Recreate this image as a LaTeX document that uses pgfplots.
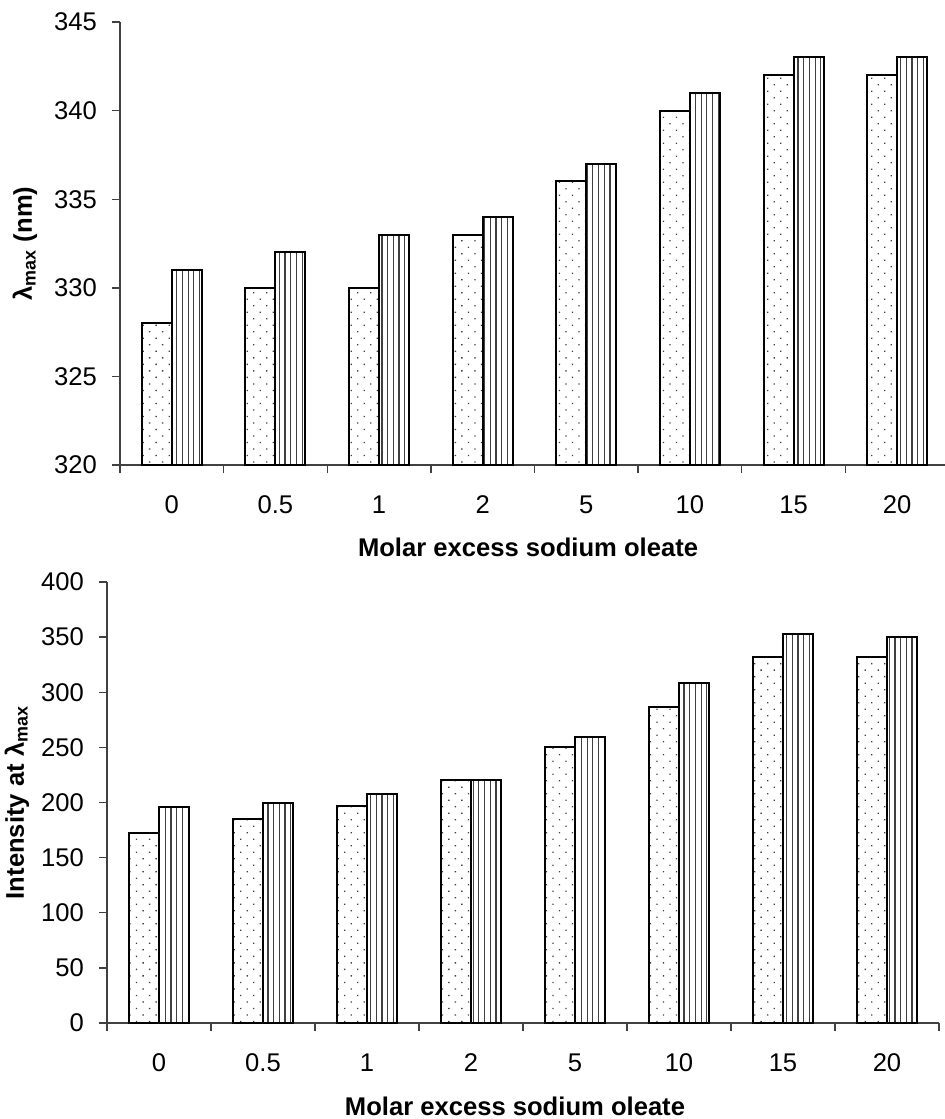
\documentclass[border=0pt]{standalone}
\usepackage{fontspec}
\setmainfont{Liberation Sans}
\usepackage{pgfplots}
\pgfplotsset{compat=1.18}
\usetikzlibrary{patterns.meta}

\newcommand{\tickfont}{\fontsize{12.8}{15}\selectfont}
\newcommand{\labfont}{\bfseries\fontsize{12.8}{15}\selectfont}

\pgfplotsset{
  excess/.style={
    scale only axis,
    xmin=-0.5, xmax=7.5,
    axis x line*=bottom, axis y line*=left,
    axis line style={black!75, line width=0.7pt},
    tick style={black!75, line width=0.7pt},
    tick align=outside,
    major tick length=4pt, minor tick length=4pt,
    xtick={0,...,7},
    xticklabels={0,0.5,1,2,5,10,15,20},
    minor xtick={-0.5,0.5,...,7.5},
    major x tick style={draw=none},
    ybar, bar width=0.29,
    /pgf/number format/assume math mode=true,
    xticklabel style={font=\tickfont, anchor=center, yshift=-16pt},
    yticklabel style={font=\tickfont, anchor=east, xshift=-4pt},
    xlabel={Molar excess sodium oleate},
  },
  dotbars/.style={draw=black, line width=1pt, bar shift=-0.145,
    pattern={Dots[angle=45,distance=4.6pt,radius=0.45pt]}, pattern color=black!75},
  linebars/.style={draw=black, line width=1pt, bar shift=0.145,
    pattern={Lines[angle=90,distance=2.85pt,line width=0.6pt]}, pattern color=black!75},
}

\begin{document}
\begin{tikzpicture}
\path[use as bounding box] (0,0) rectangle (472pt,-559.5pt);

% top: wavelength of maximum
\begin{axis}[excess,
  at={(60pt,-232.5pt)}, anchor=south west,
  width=414.5pt, height=221.5pt,
  ymin=320, ymax=345, ytick={320,325,...,345},
  ylabel={λ\textsubscript{max} (nm)},
  ylabel style={at={(rel axis cs:-0.1146,0.5)}, anchor=center, font=\labfont},
  xlabel style={at={(rel axis cs:0.4922,-0.1851)}, anchor=center, font=\labfont},
]
\addplot[dotbars] coordinates {(0,328) (1,330) (2,330) (3,333) (4,336) (5,340) (6,342) (7,342)};
\addplot[linebars] coordinates {(0,331) (1,332) (2,333) (3,334) (4,337) (5,341) (6,343) (7,343)};
\end{axis}

% bottom: intensity
\begin{axis}[excess,
  at={(53.5pt,-511.5pt)}, anchor=south west,
  width=416pt, height=220.5pt,
  ymin=0, ymax=400, ytick={0,50,...,400},
  ylabel={Intensity at λ\textsubscript{max}},
  ylabel style={at={(rel axis cs:-0.1082,0.5)}, anchor=center, font=\labfont},
  xlabel style={at={(rel axis cs:0.4904,-0.1882)}, anchor=center, font=\labfont},
]
\addplot[dotbars] coordinates {(0,172) (1,185) (2,197) (3,220) (4,250) (5,287) (6,332) (7,332)};
\addplot[linebars] coordinates {(0,196) (1,200) (2,208) (3,220) (4,259) (5,308) (6,353) (7,350)};
\end{axis}
\end{tikzpicture}
\end{document}
